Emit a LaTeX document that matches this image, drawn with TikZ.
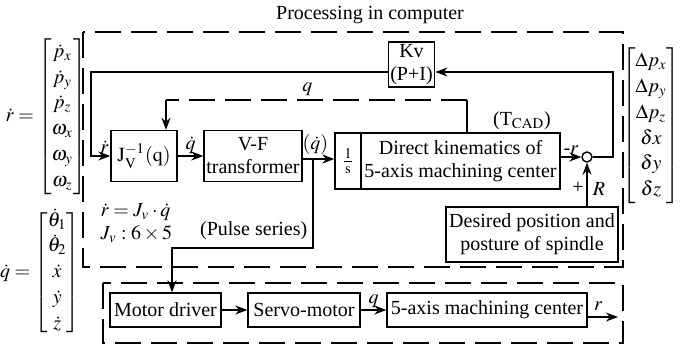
\documentclass[tikz,border=0pt]{standalone}
\usepackage{amsmath,amssymb}
\usepackage{mathptmx}
\usepackage{fontspec}
\setmainfont{Liberation Serif}
\usepackage{tikz}
\usetikzlibrary{arrows.meta,positioning,calc}

\begin{document}
\begin{tikzpicture}[x=0.5pt, y=-0.5pt, line width=0.7pt,
		font=\fontsize{10}{11.5}\selectfont,
		blk/.style={draw, inner sep=1pt, align=center},
		lbl/.style={inner sep=1pt},
		arr/.style={-{Stealth[length=6pt,width=4.5pt]}},
		grp/.style={line width=0.6pt, dash pattern=on 13pt off 5pt}]
		\useasboundingbox (0,0) rectangle (685,347);

		% dashed groups
		\node[lbl] (title) at (370,15) {Processing in computer};
		\draw[grp] (83,32) rectangle (623,267);
		\draw[grp] (103,283) rectangle (623,343);

		% vectors
		\renewcommand{\arraystretch}{1.12}
		\node[lbl] (rvec) at (46,116.5) {$\dot r=\begin{bmatrix}\dot p_x\\ \dot p_y\\ \dot p_z\\ \omega_x\\ \omega_y\\ \omega_z\end{bmatrix}$};
		\node[lbl] (qvec) at (40,272.5) {$\dot q=\begin{bmatrix}\dot\theta_1\\ \dot\theta_2\\ \dot x\\ \dot y\\ \dot z\end{bmatrix}$};
		\node[lbl] (dvec) at (651,126) {$\begin{bmatrix}\Delta p_x\\ \Delta p_y\\ \Delta p_z\\ \delta x\\ \delta y\\ \delta z\end{bmatrix}$};

		% blocks in computer
		\node[blk, minimum width=33pt, minimum height=25.5pt] (jinv) at (144,156) {$\mathrm{J_V^{-1}(q)}$};
		\node[blk, minimum width=49pt, minimum height=25.5pt] (vf) at (253,156) {V-F\\transformer};
		\node[blk, minimum width=13pt, minimum height=28pt] (integ) at (348,161) {$\frac{1}{\mathrm{s}}$};
		\node[blk, minimum width=99.5pt, minimum height=28pt] (kin) at (460.5,161) {Direct kinematics of\\5-axis machining center};
		\node[blk, minimum width=22.5pt, minimum height=22.5pt] (kv) at (411.5,64.5) {Kv\\(P+I)};
		\node[draw, circle, inner sep=0pt, minimum size=5pt] (sum) at (587,157) {};
		\node[blk, minimum width=86pt, minimum height=27.5pt] (des) at (532,234.5) {Desired position and\\posture of spindle};
		\node[lbl] (tcad) at (522,121) {(T$_{\mathrm{CAD}}$)};
		\node[lbl, anchor=west, align=left] (jeq) at (98,223) {$\dot r=J_v\cdot\dot q$\\$J_v:6\times5$};
		\node[lbl, anchor=east] (pulse) at (310,231) {(Pulse series)};

		% blocks of machine
		\node[blk, minimum width=55.5pt, minimum height=17pt] (motor) at (165.5,310) {Motor driver};
		\node[blk, minimum width=56pt, minimum height=17pt] (servo) at (304,310) {Servo-motor};
		\node[blk, minimum width=100pt, minimum height=17pt] (mc) at (487,310) {5-axis machining center};

		% forward path
		\draw[arr] (jinv) -- (vf) node[midway, above, lbl] {$\dot q$};
		\coordinate (pj) at (313,159);
		\draw[arr] (vf.east |- pj) -- (integ.west |- pj) node[pos=0.4, above=1pt, lbl] {$(\dot q)$};
		\draw[arr] (kin.east |- sum) -- (sum.west) node[midway, above, lbl] {-$r$};

		% feedback through Kv
		\coordinate (fbR) at (613,72);
		\coordinate (fbL) at (91,72);
		\draw[arr] (sum.east) -| (fbR) -- (kv.east |- fbR);
		\draw[arr] (kv.west |- fbL) -- (fbL) |- (jinv.west) node[pos=0.85, above, lbl] {$\dot r$};

		% q feedback
		\coordinate (qa) at (467,100);
		\coordinate (qb) at (166,100);
		\draw (kin.north -| qa) -- (qa);
		\draw[grp, line width=0.7pt] (qa) -- (qb) node[pos=0.53, above=1pt, lbl] {$q$};
		\draw[arr] (qb) -- (qb |- jinv.north);

		% reference input
		\draw[arr] (des.north -| sum) -- (sum.south);
		\node[lbl] (plus) at (578,188) {+};
		\node[lbl] (rin) at (599,189) {$R$};

		% pulse series to the machine
		\coordinate (pl) at (172,248);
		\draw[arr] (pj) |- (pl) -- (pl |- motor.north);
		\draw[arr] (motor) -- (servo);
		\draw[arr] (servo) -- (mc) node[midway, above, lbl] {$q$};
		\coordinate (rout) at (618,317);
		\draw[arr] (mc.east |- rout) -- (rout) node[pos=0.35, above=2pt, lbl] {$r$};
	\end{tikzpicture}
\end{document}
